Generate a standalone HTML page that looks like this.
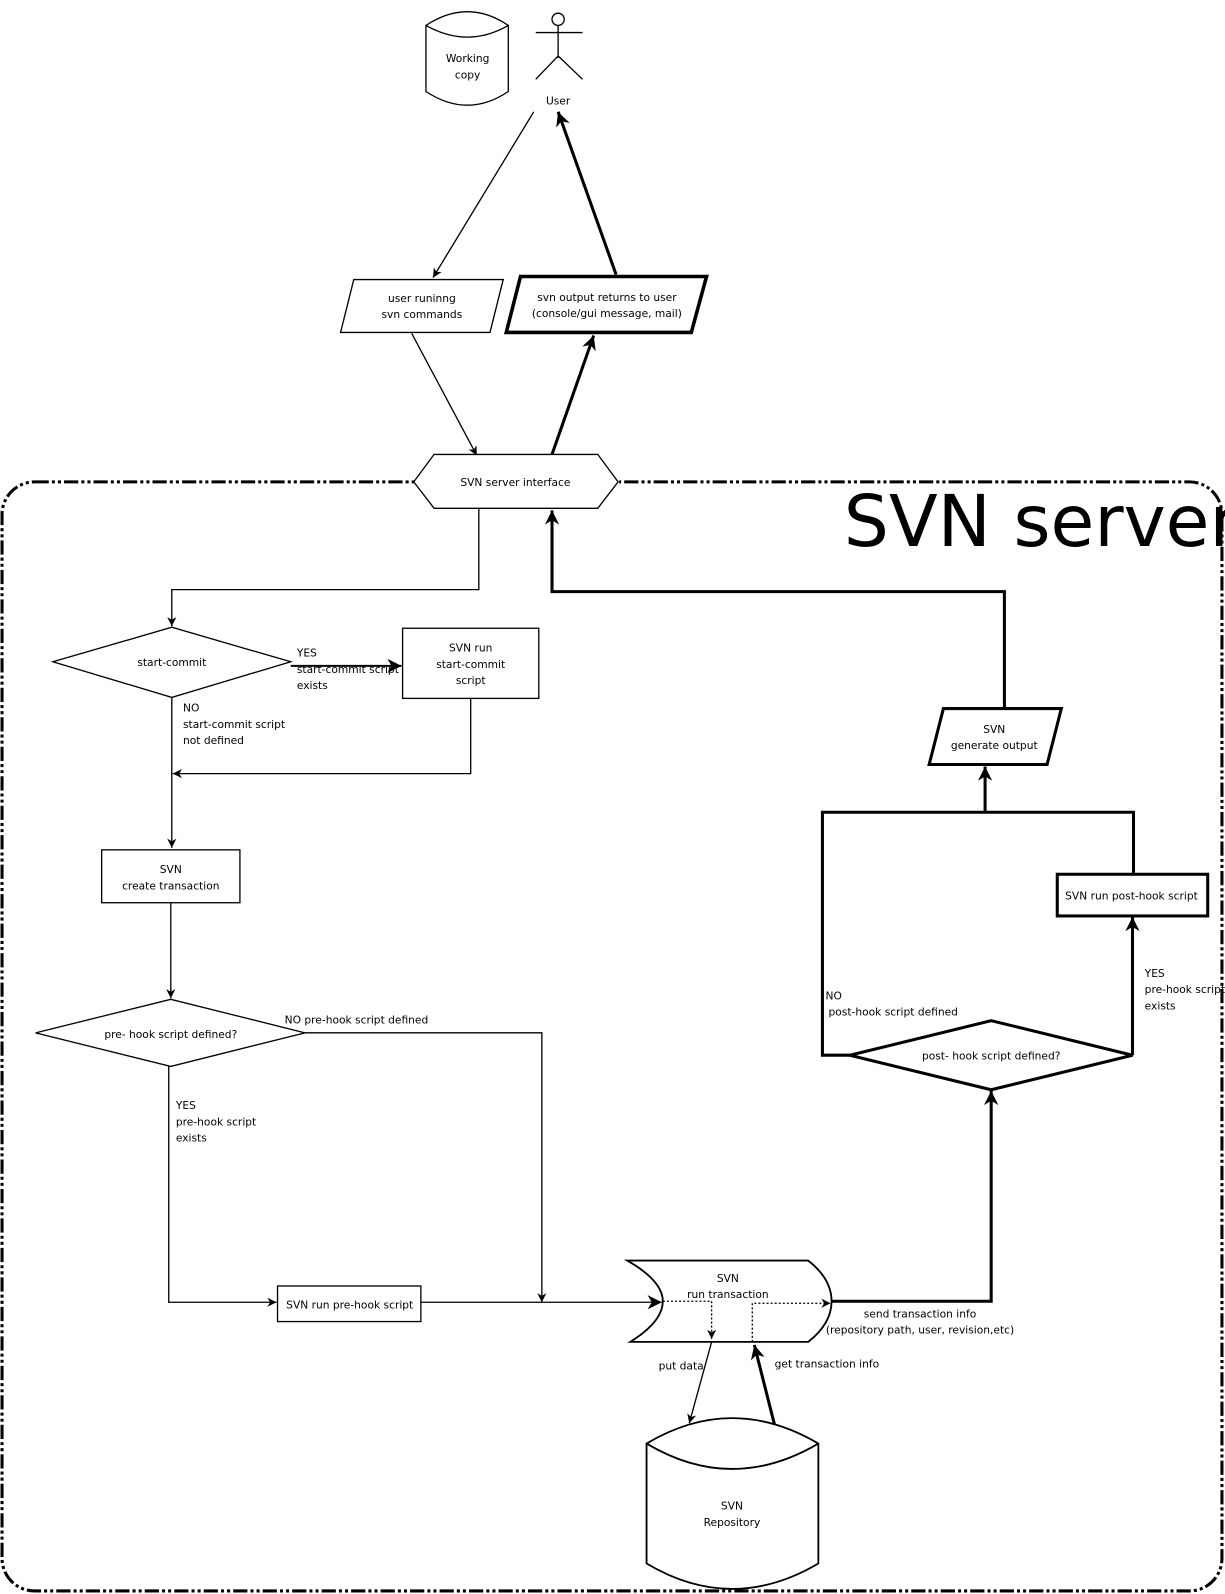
<!DOCTYPE html>
<html><head><meta charset="utf-8"><style>
html,body{margin:0;padding:0;background:#fff;}
svg{display:block}
text{font-family:"DejaVu Sans","Liberation Sans",sans-serif;font-size:10.5px;fill:#000}
.c{text-anchor:middle}
</style></head><body>
<svg width="1225" height="1594" viewBox="0 0 1205 1568" preserveAspectRatio="none" xmlns="http://www.w3.org/2000/svg">
<defs>
<marker id="a" viewBox="0 0 10 10" refX="10" refY="5" markerWidth="9" markerHeight="9" orient="auto" markerUnits="userSpaceOnUse"><path d="M0,0 L10,5 L0,10 L3,5 z" fill="#000"/></marker>
<marker id="b" viewBox="0 0 10 10" refX="10" refY="5" markerWidth="14" markerHeight="14" orient="auto" markerUnits="userSpaceOnUse"><path d="M0,0 L10,5 L0,10 L3,5 z" fill="#000"/></marker>
</defs>
<g fill="none" stroke="#000">
<!-- container -->
<rect x="2" y="474" width="1200" height="1091" rx="32" stroke-width="3" stroke-dasharray="14,3,3,3,3,3"/>
</g>
<rect x="407" y="462" width="202" height="24" fill="#fff"/>
<g fill="none" stroke="#000" stroke-width="1.3">
<!-- working copy -->
<path d="M419,25 Q460,-2 500,25 L500,90 Q460,117 419,90 Z" fill="#fff"/>
<path d="M419,25 Q460,48 500,25"/>
<!-- user -->
<circle cx="549" cy="19" r="6"/>
<path d="M549,25 L549,57 M527,32 L573,32 M549,55 L527,78 M549,55 L573,78"/>
<!-- arrows top -->
<line x1="525" y1="110" x2="426" y2="273" marker-end="url(#a)"/>
<line x1="606" y1="270" x2="549" y2="110" stroke-width="3" marker-end="url(#b)"/>
<polygon points="348,275 495,275 482,327 335,327" fill="#fff"/>
<polygon points="512,272 695,272 680,327 498,327" stroke-width="3.5" fill="#fff"/>
<line x1="405" y1="328" x2="469" y2="448" marker-end="url(#a)"/>
<line x1="543" y1="447" x2="584" y2="330" stroke-width="3" marker-end="url(#b)"/>
<polygon points="407,474 427,447 588,447 608,474 588,500 427,500" fill="#fff"/>
<!-- left flow -->
<polyline points="471,500 471,580 169,580 169,616" marker-end="url(#a)"/>
<polygon points="52,651 169,617 286,651 169,686" fill="#fff"/>
<line x1="286" y1="655" x2="395" y2="655" stroke-width="2" marker-end="url(#b)"/>
<rect x="396" y="618" width="134" height="69"/>
<polyline points="463,687 463,761 170,761" marker-end="url(#a)"/>
<line x1="169" y1="686" x2="169" y2="834" marker-end="url(#a)"/>
<rect x="100" y="836" width="136" height="52"/>
<line x1="168" y1="888" x2="168" y2="982" marker-end="url(#a)"/>
<polygon points="35,1016 168,983 300,1016 168,1049" fill="#fff"/>
<polyline points="300,1016 533,1016 533,1281" marker-end="url(#a)"/>
<polyline points="166,1049 166,1281 272,1281" marker-end="url(#a)"/>
<rect x="273" y="1265" width="141" height="35"/>
<line x1="414" y1="1281" x2="651" y2="1281" marker-end="url(#b)"/>
<!-- transaction -->
<path d="M617,1240 L795,1240 Q818,1258 818,1280 Q818,1302 795,1320 L620,1320 Q652,1300 652,1280 Q652,1260 617,1240 Z" stroke-width="1.8"/>
<polyline points="652,1280 700,1280 700,1317" stroke-dasharray="2,2" marker-end="url(#a)"/>
<polyline points="740,1320 740,1282 817,1282" stroke-dasharray="2,2" marker-end="url(#a)"/>
<polyline points="818,1280 975,1280 975,1073" stroke-width="3" marker-end="url(#b)"/>
<line x1="700" y1="1320" x2="678" y2="1400" marker-end="url(#a)"/>
<line x1="762" y1="1402" x2="742" y2="1323" stroke-width="3" marker-end="url(#b)"/>
<!-- repository -->
<path d="M636,1420 Q720,1370 805,1420 L805,1538 Q720,1588 636,1538 Z" stroke-width="1.8" fill="#fff"/>
<path d="M636,1420 Q720,1470 805,1420" stroke-width="1.8"/>
<!-- right flow -->
<polygon points="836,1038 975,1004 1114,1038 975,1072" stroke-width="3" fill="#fff"/>
<polyline points="836,1038 809,1038 809,799 1115,799 1115,860" stroke-width="3"/>
<line x1="969" y1="799" x2="969" y2="754" stroke-width="3" marker-end="url(#b)"/>
<rect x="1040" y="860" width="148" height="41" stroke-width="3"/>
<line x1="1114" y1="1038" x2="1114" y2="902" stroke-width="3" marker-end="url(#b)"/>
<polygon points="928,697 1044,697 1030,752 914,752" stroke-width="3" fill="#fff"/>
<polyline points="988,697 988,582 543,582 543,502" stroke-width="3" marker-end="url(#b)"/>
</g>
<text x="830" y="537" style="font-size:70px">SVN server</text>
<text class="c" x="460" y="61">Working</text><text class="c" x="460" y="77">copy</text>
<text class="c" x="549" y="103">User</text>
<text class="c" x="415" y="297">user runinng</text><text class="c" x="415" y="313">svn commands</text>
<text class="c" x="597" y="296">svn output returns to user</text><text class="c" x="597" y="312">(console/gui message, mail)</text>
<text class="c" x="507" y="478">SVN server interface</text>
<text class="c" x="169" y="655">start-commit</text>
<text x="292" y="646">YES</text><text x="292" y="662">start-commit script</text><text x="292" y="678">exists</text>
<text class="c" x="463" y="641">SVN run</text><text class="c" x="463" y="657">start-commit</text><text class="c" x="463" y="673">script</text>
<text x="180" y="700">NO</text><text x="180" y="716">start-commit script</text><text x="180" y="732">not defined</text>
<text class="c" x="168" y="859">SVN</text><text class="c" x="168" y="875">create transaction</text>
<text class="c" x="168" y="1021">pre- hook script defined?</text>
<text x="280" y="1007">NO pre-hook script defined</text>
<text x="173" y="1091">YES</text><text x="173" y="1107">pre-hook script</text><text x="173" y="1123">exists</text>
<text class="c" x="344" y="1287">SVN run pre-hook script</text>
<text class="c" x="716" y="1261">SVN</text><text class="c" x="716" y="1277">run transaction</text>
<text class="c" x="905" y="1296">send transaction info</text><text class="c" x="905" y="1312">(repository path, user, revision,etc)</text>
<text class="c" x="670" y="1347">put data</text>
<text x="762" y="1345">get transaction info</text>
<text class="c" x="720" y="1485">SVN</text><text class="c" x="720" y="1501">Repository</text>
<text class="c" x="975" y="1042">post- hook script defined?</text>
<text x="812" y="983">NO</text><text x="815" y="999">post-hook script defined</text>
<text x="1126" y="961">YES</text><text x="1126" y="977">pre-hook script</text><text x="1126" y="993">exists</text>
<text class="c" x="1113" y="885">SVN run post-hook script</text>
<text class="c" x="978" y="721">SVN</text><text class="c" x="978" y="737">generate output</text>
</svg>
</body></html>
